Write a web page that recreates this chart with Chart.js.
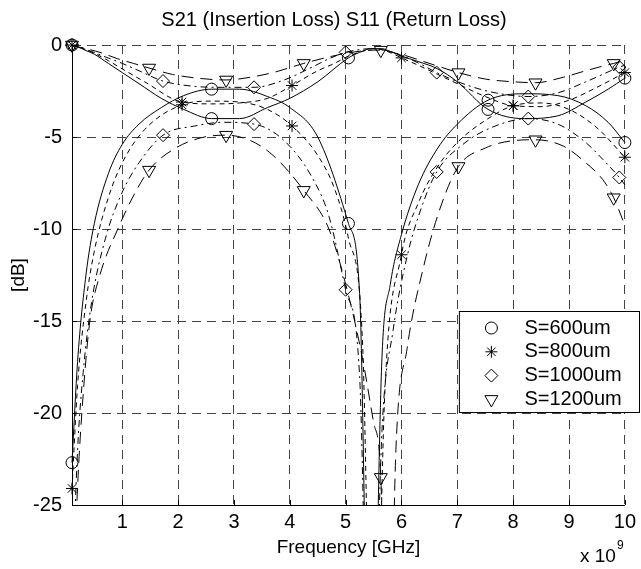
<!DOCTYPE html>
<html>
<head>
<meta charset="utf-8">
<script src="https://cdn.jsdelivr.net/npm/chart.js@4.4.1/dist/chart.umd.min.js"></script>
<style>
  html, body { margin: 0; padding: 0; background: #fff; }
  #wrap { width: 641px; height: 569px; }
</style>
</head>
<body>
<div id="wrap"><canvas id="sChart" width="641" height="569"></canvas></div>
<script>
// Frequency in GHz (axis shows x 10^9), values in dB
const chartTitle = 'S21 (Insertion Loss) S11 (Return Loss)';
const xTickValues = [1, 2, 3, 4, 5, 6, 7, 8, 9, 10];
const yTickValues = [0, -5, -10, -15, -20, -25];

// S = 600um
const freq600 = [0.1, 0.2, 0.35, 0.5, 0.75, 1.0, 1.3, 1.7, 2.1, 2.6, 3.1, 3.6, 4.0, 4.5, 5.05, 5.25, 5.45, 5.65, 5.8, 6.0, 6.3, 6.65, 7.0, 7.55, 8.2, 8.8, 9.3, 9.7, 10];
const s21_600 = [0, -0.1, -0.3, -0.5, -1.0, -1.5, -2.1, -2.9, -3.5, -4.0, -4.0, -3.4, -2.9, -2.0, -0.7, -0.4, -0.2, -0.2, -0.35, -0.6, -0.9, -1.3, -2.0, -3.5, -4.0, -3.85, -3.1, -2.4, -1.8];
const s11_600 = [-22.7, -17.2, -12.5, -9.7, -7.0, -5.4, -4.3, -3.4, -2.75, -2.4, -2.4, -2.8, -3.4, -5.0, -9.7, -13.5, -40, -17, -13, -10.3, -7.6, -5.6, -4.3, -3.0, -2.65, -2.75, -3.3, -4.2, -5.3];
const marks600 = [0.1, 2.6, 5.05, 7.55, 10];

// S = 800um
const freq800 = [0.1, 0.2, 0.35, 0.5, 0.75, 1.0, 1.4, 2.07, 2.6, 3.1, 3.6, 4.04, 4.5, 4.8, 5.05, 5.3, 5.5, 5.7, 6.0, 6.3, 6.65, 7.0, 7.5, 8.0, 8.5, 9.0, 9.5, 10];
const s21_800 = [0, -0.1, -0.25, -0.45, -0.85, -1.3, -2.0, -3.1, -3.2, -3.15, -2.9, -2.2, -1.4, -1.0, -0.6, -0.35, -0.2, -0.3, -0.7, -1.1, -1.6, -2.1, -2.8, -3.3, -3.35, -3.0, -2.3, -1.5];
const s11_800 = [-24.1, -18.5, -14.0, -11.2, -8.3, -6.4, -4.6, -3.25, -3.05, -3.1, -3.5, -4.4, -6.0, -7.8, -10.5, -16, -40, -19, -11.4, -8.6, -6.6, -5.3, -4.1, -3.3, -3.15, -3.5, -4.5, -6.1];
const marks800 = [0.1, 2.07, 4.04, 6.0, 8.0, 10];

// S = 1000um
const freq1000 = [0.1, 0.2, 0.3, 0.45, 0.7, 1.0, 1.3, 1.73, 2.3, 2.8, 3.36, 3.9, 4.4, 4.7, 5.0, 5.25, 5.45, 5.65, 5.85, 6.1, 6.35, 6.63, 7.1, 7.6, 8.27, 8.8, 9.3, 9.6, 9.9, 10];
const s21_1000 = [0, -0.1, -0.2, -0.35, -0.65, -1.0, -1.4, -1.96, -2.25, -2.3, -2.3, -1.9, -1.2, -0.75, -0.4, -0.25, -0.2, -0.25, -0.4, -0.7, -1.05, -1.5, -2.1, -2.55, -2.8, -2.6, -2.0, -1.6, -1.2, -1.1];
const s11_1000 = [-30, -22, -17.8, -14.0, -10.5, -8.0, -6.4, -4.9, -4.4, -4.2, -4.3, -5.2, -7.2, -9.3, -13.3, -18, -40, -21, -15.5, -11.5, -8.9, -6.9, -5.4, -4.5, -4.0, -4.3, -5.3, -6.2, -7.2, -7.6];
const marks1000 = [0.1, 1.73, 3.36, 5.0, 6.63, 8.27, 9.9];

// S = 1200um
const freq1200 = [0.1, 0.2, 0.3, 0.42, 0.6, 0.92, 1.2, 1.48, 1.9, 2.4, 2.86, 3.3, 3.7, 4.25, 4.7, 5.0, 5.3, 5.5, 5.63, 5.75, 5.9, 6.1, 6.4, 6.7, 7.02, 7.5, 8.0, 8.4, 8.9, 9.3, 9.6, 9.8, 10];
const s21_1200 = [0, -0.1, -0.15, -0.25, -0.4, -0.75, -1.0, -1.25, -1.6, -1.82, -1.9, -1.75, -1.5, -1.0, -0.65, -0.45, -0.32, -0.28, -0.28, -0.32, -0.45, -0.6, -0.9, -1.2, -1.5, -1.85, -2.0, -2.05, -1.75, -1.4, -1.15, -1.0, -0.85];
const s11_1200 = [-32, -24, -19, -15, -12.5, -10, -8.2, -6.8, -5.7, -5.05, -4.9, -5.2, -6.0, -7.9, -10, -13, -17, -20.5, -23.5, -40, -22, -16.5, -12, -8.8, -6.6, -5.6, -5.2, -5.15, -5.5, -6.4, -7.3, -8.3, -9.8];
const marks1200 = [0.1, 1.48, 2.86, 4.25, 5.63, 7.02, 8.4, 9.8];

const fontStack = 'Arial, "Liberation Sans", Helvetica, sans-serif';
Chart.defaults.font.family = fontStack;
Chart.defaults.color = '#000';

const seriesList = [
    { label: 'S=600um', freq: freq600, s21: s21_600, s11: s11_600, marks: marks600, style: 'circle', radius: 6, rotation: 0, dash: [] },
    { label: 'S=800um', freq: freq800, s21: s21_800, s11: s11_800, marks: marks800, style: 'star', radius: 6, rotation: 0, dash: [5, 4] },
    { label: 'S=1000um', freq: freq1000, s21: s21_1000, s11: s11_1000, marks: marks1000, style: 'rectRot', radius: 6.5, rotation: 0, dash: [7, 4, 2, 4] },
    { label: 'S=1200um', freq: freq1200, s21: s21_1200, s11: s11_1200, marks: marks1200, style: 'triangle', radius: 7.5, rotation: 180, dash: [12, 7] }
];

const datasets = [];
seriesList.forEach(s => {
    [s.s21, s.s11].forEach(vals => {
        datasets.push({
            label: s.label,
            data: s.freq.map((f, i) => ({ x: f, y: vals[i] })),
            borderColor: '#000',
            borderWidth: 1,
            borderDash: s.dash,
            pointStyle: s.style,
            pointRotation: s.rotation,
            pointRadius: ctx => s.marks.includes(s.freq[ctx.dataIndex]) ? s.radius : 0,
            pointBorderColor: '#000',
            pointBackgroundColor: 'rgba(0,0,0,0)',
            pointBorderWidth: 1,
            cubicInterpolationMode: 'monotone',
            clip: { left: 10, top: 10, right: 10, bottom: 0 },
            fill: false
        });
    });
});

// title over the axes, axes lines, inward ticks, the x 10^9 multiplier and a MATLAB-like legend box
const matlabExtras = {
    id: 'matlabExtras',
    afterDraw(chart) {
        const { ctx, chartArea, scales } = chart;
        ctx.save();

        // title, centred a little right of the canvas middle like the original
        ctx.fillStyle = '#000';
        ctx.textBaseline = 'middle';
        ctx.textAlign = 'center';
        ctx.font = '20px ' + fontStack;
        ctx.fillText(chartTitle, 334, 20);

        // solid left and bottom axes
        ctx.strokeStyle = '#000';
        ctx.lineWidth = 1;
        ctx.setLineDash([]);
        ctx.beginPath();
        ctx.moveTo(chartArea.left + 0.5, chartArea.top);
        ctx.lineTo(chartArea.left + 0.5, chartArea.bottom + 0.5);
        ctx.lineTo(chartArea.right, chartArea.bottom + 0.5);
        ctx.stroke();

        // inward ticks
        ctx.beginPath();
        xTickValues.forEach(v => {
            const px = Math.round(scales.x.getPixelForValue(v)) + 0.5;
            ctx.moveTo(px, chartArea.bottom);
            ctx.lineTo(px, chartArea.bottom - 5);
        });
        yTickValues.forEach(v => {
            const py = Math.round(scales.y.getPixelForValue(v)) + 0.5;
            ctx.moveTo(chartArea.left, py);
            ctx.lineTo(chartArea.left + 5, py);
        });
        ctx.stroke();

        // x 10^9
        ctx.textAlign = 'left';
        ctx.font = '19px ' + fontStack;
        ctx.fillText('x 10', chartArea.right - 45, chartArea.bottom + 52);
        ctx.font = '12px ' + fontStack;
        ctx.fillText('9', chartArea.right - 8, chartArea.bottom + 41);

        // legend
        const boxL = chartArea.right - 165.5;
        const boxT = chartArea.top + 266.5;
        const boxR = chart.width - 1.5;
        const boxB = chartArea.top + 367.5;
        ctx.fillStyle = '#fff';
        ctx.fillRect(boxL, boxT, boxR - boxL, boxB - boxT);
        ctx.strokeStyle = '#000';
        ctx.strokeRect(boxL, boxT, boxR - boxL, boxB - boxT);

        ctx.font = '20px ' + fontStack;
        seriesList.forEach((s, i) => {
            const rowY = boxT + 16.5 + i * 23.8;
            ctx.fillStyle = 'rgba(0,0,0,0)';
            ctx.strokeStyle = '#000';
            ctx.lineWidth = 1;
            Chart.helpers.drawPoint(ctx, {
                pointStyle: s.style,
                radius: s.radius,
                rotation: s.rotation,
                borderWidth: 1
            }, boxL + 32, rowY);
            ctx.fillStyle = '#000';
            ctx.fillText(s.label, boxL + 65, rowY);
        });

        ctx.restore();
    }
};

new Chart(document.getElementById('sChart'), {
    type: 'line',
    data: { datasets: datasets },
    options: {
        responsive: false,
        animation: false,
        events: [],
        layout: { padding: { left: 0, right: 13, top: 45, bottom: 0 } },
        plugins: {
            legend: { display: false },
            tooltip: { enabled: false },
            title: { display: false }
        },
        scales: {
            x: {
                type: 'linear',
                min: 0.1,
                max: 10,
                afterBuildTicks: scale => { scale.ticks = xTickValues.map(v => ({ value: v })); },
                afterFit: scale => { scale.height = 64; },
                ticks: { color: '#000', font: { size: 20 }, padding: 5, maxRotation: 0, autoSkip: false },
                grid: { color: '#444', lineWidth: 1, drawTicks: false },
                border: { display: false, dash: [9, 6] },
                title: {
                    display: true,
                    text: 'Frequency [GHz]',
                    color: '#000',
                    font: { size: 19 },
                    padding: { top: 0, bottom: 10 }
                }
            },
            y: {
                type: 'linear',
                min: -25,
                max: 0,
                afterBuildTicks: scale => { scale.ticks = yTickValues.map(v => ({ value: v })); },
                afterFit: scale => { scale.width = 72; },
                ticks: { color: '#000', font: { size: 20 }, padding: 10, autoSkip: false },
                grid: { color: '#444', lineWidth: 1, drawTicks: false },
                border: { display: false, dash: [9, 6] },
                title: {
                    display: true,
                    text: '[dB]',
                    color: '#000',
                    font: { size: 19 },
                    padding: { top: 7, bottom: 0 }
                }
            }
        }
    },
    plugins: [matlabExtras]
});
</script>
</body>
</html>
